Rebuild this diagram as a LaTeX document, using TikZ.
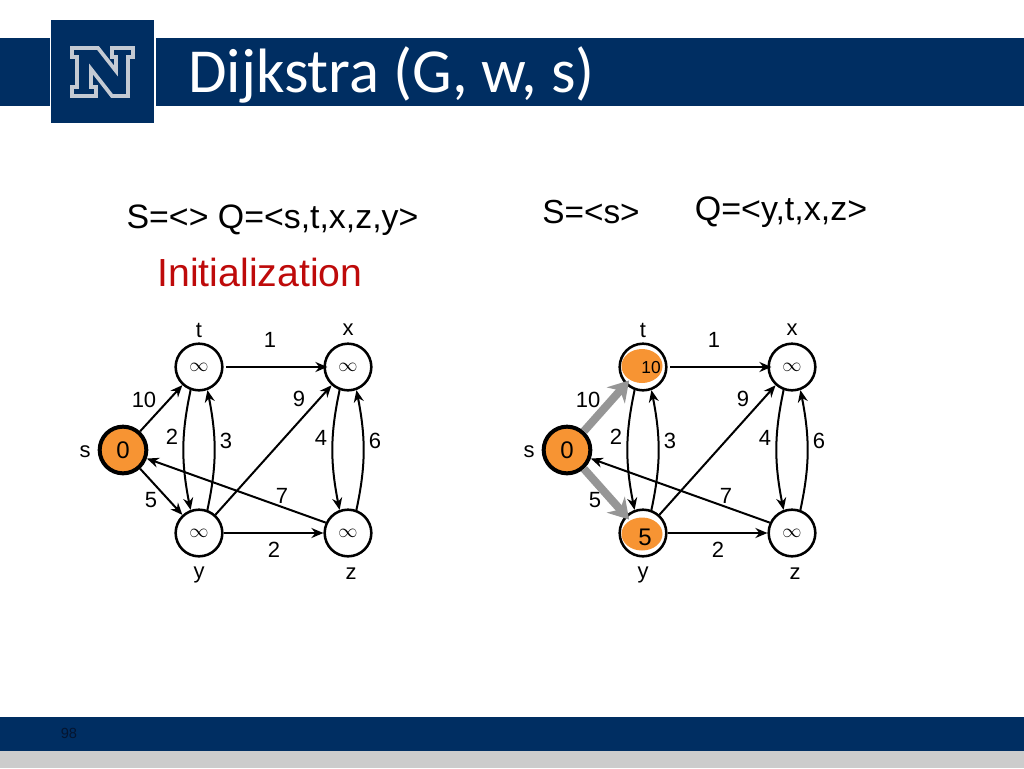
\documentclass[tikz,border=0pt]{standalone}
\usepackage{fontspec}
\setmainfont{Liberation Sans}
\newfontfamily\titlefont{Carlito}
\usetikzlibrary{arrows.meta,bending}
\definecolor{navy}{HTML}{002E62}
\definecolor{footgrey}{HTML}{CCCCCC}
\definecolor{logogrey}{HTML}{C4CAD3}
\definecolor{visitorange}{HTML}{F79433}
\definecolor{initred}{HTML}{BE0A0A}
\definecolor{relaxgrey}{HTML}{969696}
\definecolor{pagedark}{HTML}{051530}
\newcommand{\fsz}[1]{\fontsize{#1}{#1}\selectfont}
\tikzset{
    vertex/.style={circle, draw, line width=1.9pt, fill=white, minimum size=35pt, inner sep=0pt, font=\fsz{14}},
    source/.style={vertex, line width=3pt, fill=visitorange, font=\fsz{18}},
    edgelabel/.style={inner sep=0pt, font=\fsz{16.5}},
    edge/.style={line width=1.5pt, -{Stealth[length=9pt,width=7.5pt]}},
    relaxed/.style={line width=6pt, relaxgrey, -{Stealth[length=15pt,width=18pt]}, shorten >=-4pt}
}
\begin{document}
\begin{tikzpicture}[x=0.75pt,y=-0.75pt]
    \useasboundingbox (0,0) rectangle (1024,768);

    % Header bar and logo
    \fill[navy] (0,38) rectangle (49.5,105.5);
    \fill[navy] (155.5,38) rectangle (1024,105.5);
    \fill[navy] (51,20) rectangle (154,123);
    \draw[logogrey, line width=2.8pt, fill=navy] (72,48) -- (98,48) -- (116,71) -- (116,57) -- (112,57) -- (112,48)
        -- (133,48) -- (133,57) -- (128,57) -- (128,96) -- (112,96) -- (91,69) -- (91,87) -- (96,87) -- (96,96)
        -- (72,96) -- (72,87) -- (77,87) -- (77,57) -- (72,57) -- cycle;
    \node[anchor=base west, inner sep=0pt, white, font=\titlefont\fsz{47}] (title) at (188,92) {Dijkstra (G, w, s)};

    % Footer bars
    \fill[navy] (0,717) rectangle (1024,751);
    \fill[footgrey] (0,751) rectangle (1024,768);
    \node[inner sep=0pt, pagedark, font=\fsz{11}] (pagenum) at (69,733) {98};

    % Queue texts
    \node[anchor=base, inner sep=0pt, font=\fsz{25.4}] (queueA) at (272.5,228) {S=<> Q=<s,t,x,z,y>};
    \node[anchor=base, inner sep=0pt, initred, font=\fsz{29.4}] (initlabel) at (260,286) {Initialization};
    \node[anchor=base, inner sep=0pt, font=\fsz{25}] (doneB) at (591,223) {S=<s>};
    \node[anchor=base, inner sep=0pt, font=\fsz{25.5}] (queueB) at (781,220) {Q=<y,t,x,z>};

    % Left graph vertices
    \node[source] (sA) at (123,450) {0};
    \node[vertex] (tA) at (199,367) {$\infty$};
    \node[vertex] (xA) at (348,367) {$\infty$};
    \node[vertex] (yA) at (199,533) {$\infty$};
    \node[vertex] (zA) at (348,533) {$\infty$};

    % Right graph vertices
    \node[source] (sB) at (567,450) {0};
    \node[vertex] (tB) at (643,367) {};
    \node[vertex] (xB) at (792,367) {$\infty$};
    \node[vertex] (yB) at (643,533) {};
    \node[vertex] (zB) at (792,533) {$\infty$};
    \fill[visitorange] (642,366) ellipse (20.5 and 17);
    \fill[visitorange] (642,534) ellipse (20.5 and 16.5);
    \node[inner sep=0pt, font=\fsz{13}] (distT) at (651,368) {10};
    \node[inner sep=0pt, font=\fsz{18}] (distY) at (645,537) {5};

    % Edges shared by both graphs
    \foreach \g in {A,B} {
        \draw[edge, shorten <=2pt, shorten >=-3pt] (t\g) -- (x\g);
        \draw[edge] (y\g) -- (z\g);
        \draw[edge] (y\g.48) -- (x\g.228);
        \draw[edge] (z\g.155) -- (s\g);
        \draw[edge] (t\g.250) to[bend right=12] (y\g.110);
        \draw[edge] (y\g.70) to[bend right=12] (t\g.290);
        \draw[edge] (x\g.250) to[bend right=12] (z\g.110);
        \draw[edge] (z\g.70) to[bend right=12] (x\g.290);
    }

    % Edges out of s
    \draw[edge] (sA) -- (tA);
    \draw[edge] (sA) -- (yA);
    \draw[relaxed] (sB.48) -- (tB.225);
    \draw[relaxed] (sB.-48) -- (yB.135);

    % Vertex names and weights
    \foreach \g/\dx in {A/0,B/444} {
        \foreach \txt/\px/\py [count=\n] in {t/199/330, x/348/330, y/199/575, z/351/574, s/85/452,
            1/270/340, 10/144/400, 9/299/399, 2/172/437, 3/226/441,
            4/321/438, 6/375/441, 5/151/500, 7/282/496, 2/274/550} {
            \node[edgelabel] (lbl\g\n) at (\px+\dx,\py) {\txt};
        }
    }
\end{tikzpicture}
\end{document}
